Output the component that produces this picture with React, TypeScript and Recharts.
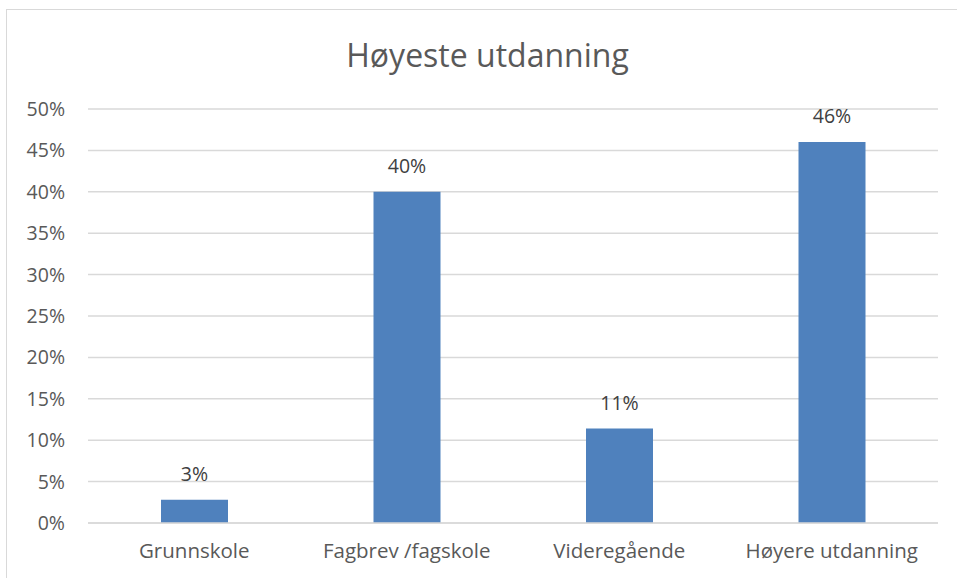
import React from "react";
import { BarChart, Bar, XAxis, YAxis, CartesianGrid, LabelList } from "recharts";

const categories = ["Grunnskole", "Fagbrev /fagskole", "Videregående", "Høyere utdanning"];
const shares = [2.8, 40, 11.4, 46];
const yTicks = [0, 5, 10, 15, 20, 25, 30, 35, 40, 45, 50];

const data = categories.map((name, i) => ({ name, value: shares[i] }));

const font = "'Open Sans', 'Liberation Sans', sans-serif";

const App: React.FC = () => {
  return (
    <div
      style={{
        position: "fixed",
        left: 0,
        top: 0,
        width: 957,
        height: 578,
        overflow: "hidden",
        background: "#fff",
        fontFamily: font,
      }}
    >
      <div
        style={{
          position: "absolute",
          left: 6,
          top: 9,
          width: 1000,
          height: 600,
          border: "1px solid #d9d9d9",
        }}
      />
      <div
        style={{
          position: "absolute",
          left: 0,
          top: 33,
          width: 975,
          textAlign: "center",
          fontSize: 32,
          lineHeight: "44px",
          color: "#595959",
        }}
      >
        Høyeste utdanning
      </div>
      <div style={{ position: "absolute", left: 0, top: 0 }}>
        <BarChart
          width={957}
          height={578}
          data={data}
          margin={{ top: 109, right: 19, bottom: 10, left: 0 }}
        >
          <CartesianGrid vertical={false} stroke="#d9d9d9" strokeWidth={1.5} />
          <XAxis
            dataKey="name"
            axisLine={{ stroke: "#d9d9d9", strokeWidth: 1.5 }}
            tickLine={false}
            height={45}
            tickMargin={14}
            tick={{ fontSize: 20.5, fill: "#595959", fontFamily: font }}
            interval={0}
          />
          <YAxis
            width={88}
            domain={[0, 50]}
            ticks={yTicks}
            axisLine={false}
            tickLine={false}
            tickMargin={17}
            tickFormatter={(v: number) => `${v}%`}
            tick={{ fontSize: 19.5, fill: "#595959", fontFamily: font }}
          />
          <Bar dataKey="value" fill="#4f81bd" barSize={67} isAnimationActive={false}>
            <LabelList
              dataKey="value"
              position="top"
              offset={19}
              formatter={(v: number) => `${Math.round(v)}%`}
              style={{ fontSize: 19.5, fill: "#404040", fontFamily: font }}
            />
          </Bar>
        </BarChart>
      </div>
    </div>
  );
};

export default App;
